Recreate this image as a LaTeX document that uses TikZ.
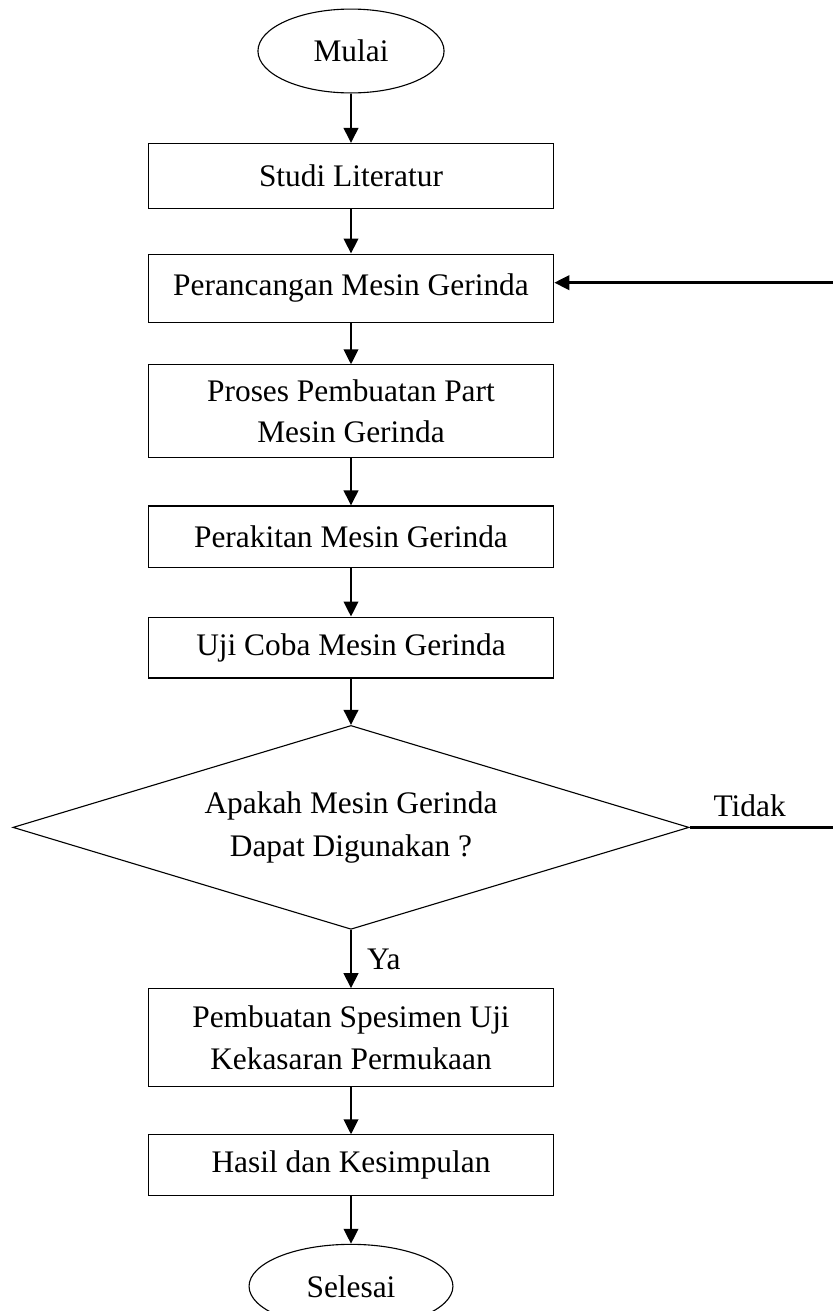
\documentclass[tikz,border=0pt]{standalone}
\usepackage{fontspec}
\setmainfont{Liberation Serif}
\usetikzlibrary{shapes.geometric,arrows.meta,positioning}
\tikzset{>={Triangle[length=5.4pt,width=5.2pt]}}
\tikzset{proc node/.style={rectangle,draw,line width=0.4pt,minimum width=146pt,minimum height=23.4pt,inner sep=3pt,align=center,font=\fontsize{11.3}{15}\selectfont},
            term node/.style={ellipse,draw,line width=0.4pt,minimum height=30.2pt,inner sep=0pt,font=\fontsize{11.3}{15}\selectfont},
            dec node/.style={diamond,draw,line width=0.4pt,aspect=3.31,inner sep=0pt,minimum width=243.4pt,minimum height=73.4pt,align=center,font=\fontsize{11.3}{15.3}\selectfont},
            flow/.style={draw,line width=0.9pt,->},
            }

\begin{document}
\begin{tikzpicture}[x=0.36pt,y=-0.36pt]
    \useasboundingbox (0,0) rectangle (833,1311);

    \node[term node,minimum width=67pt] (mulai) at (351,51) {Mulai};
    \node[proc node] (studi) [below = 17.8pt of mulai] {Studi Literatur};
    \node[proc node,minimum height=24.6pt] (rancang) [below = 16pt of studi] {Perancangan Mesin Gerinda};
    \node[proc node,minimum height=33.3pt] (buat) [below = 14.9pt of rancang] {Proses Pembuatan Part\\Mesin Gerinda};
    \node[proc node,minimum height=22.2pt] (rakit) [below = 17.1pt of buat] {Perakitan Mesin Gerinda};
    \node[proc node,minimum height=21.9pt] (uji) [below = 17.4pt of rakit] {Uji Coba Mesin Gerinda};
    \node[dec node] (cek) [below = 16.7pt of uji] {Apakah Mesin Gerinda\\Dapat Digunakan ?};
    \node[proc node,minimum height=35.1pt] (spesimen) [below = 21pt of cek] {Pembuatan Spesimen Uji\\Kekasaran Permukaan};
    \node[proc node,minimum height=21.9pt] (hasil) [below = 17.1pt of spesimen] {Hasil dan Kesimpulan};
    \node[term node,minimum width=73.4pt] (selesai) [below = 17.1pt of hasil] {Selesai};
    \coordinate (kanan) at (836,0);
    \coordinate (masuk) at ([yshift=2pt]rancang.east);

    \path[flow]
    (mulai) edge (studi)
    (studi) edge (rancang)
    (rancang) edge (buat)
    (buat) edge (rakit)
    (rakit) edge (uji)
    (uji) edge (cek)
    (spesimen) edge (hasil)
    (hasil) edge (selesai);

    \draw[flow] (cek) -- node[right,xshift=2pt] {\fontsize{11.3}{15}\selectfont Ya} (spesimen);
    \draw[flow] (cek.east) -- node[above,pos=0.41] {\fontsize{11.3}{15}\selectfont Tidak} (cek.east -| kanan)
        -- (kanan |- masuk) -- (masuk);

\end{tikzpicture}
\end{document}
